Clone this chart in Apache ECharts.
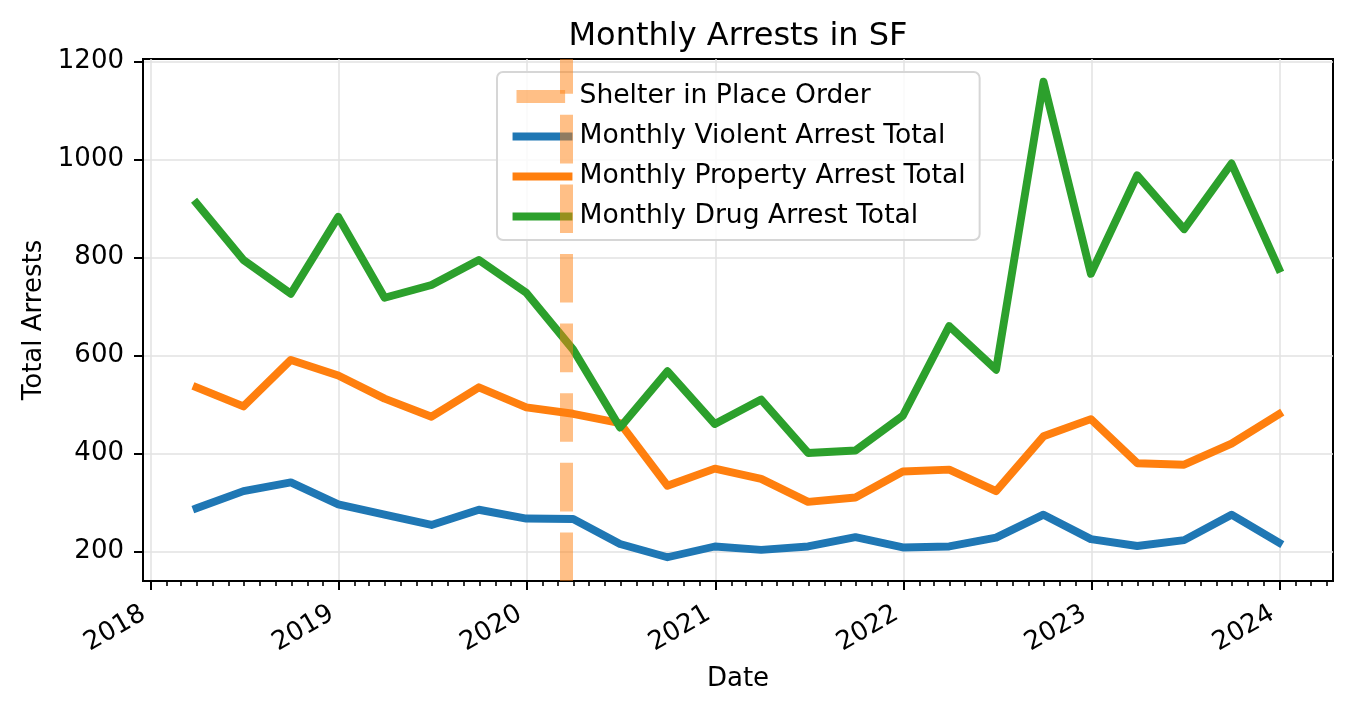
<!DOCTYPE html>
<html>
<head>
<meta charset="utf-8">
<title>Monthly Arrests in SF</title>
<script src="https://cdn.jsdelivr.net/npm/echarts@6/dist/echarts.min.js"></script>
<style>
  html, body { margin: 0; padding: 0; background: #fff; }
  #chart { width: 1352px; height: 712px; }
</style>
</head>
<body>
<div id="chart"></div>
<script>
// quarter-end dates, one value per quarter
const dates = [
    '2018-03-31', '2018-06-30', '2018-09-30', '2018-12-31',
    '2019-03-31', '2019-06-30', '2019-09-30', '2019-12-31',
    '2020-03-31', '2020-06-30', '2020-09-30', '2020-12-31',
    '2021-03-31', '2021-06-30', '2021-09-30', '2021-12-31',
    '2022-03-31', '2022-06-30', '2022-09-30', '2022-12-31',
    '2023-03-31', '2023-06-30', '2023-09-30', '2023-12-31',
]
const violent = [288, 323, 341, 296, 275, 254, 285, 267, 266, 215, 188, 210, 203, 210, 229, 208, 210, 228, 275, 225, 211, 223, 275, 218]
const property = [535, 496, 591, 559, 512, 475, 535, 494, 481, 462, 334, 369, 348, 301, 310, 363, 367, 323, 435, 470, 380, 377, 420, 480]
const drug = [911, 795, 726, 883, 718, 744, 795, 728, 612, 453, 568, 460, 510, 401, 406, 477, 660, 571, 1159, 767, 968, 858, 992, 777]
const shelterDate = '2020-03-17'

const yearLabels = ['2018', '2019', '2020', '2021', '2022', '2023', '2024']
const yTicks = [200, 400, 600, 800, 1000, 1200]
const xMin = '2017-12-17'
const xMax = '2024-04-14'
const yMin = 139.5
const yMax = 1205.5

const font = 'DejaVu Sans'

// local-time timestamp for 'YYYY-MM-DD'
function ts(s) {
    const p = s.split('-').map(Number)
    return new Date(p[0], p[1] - 1, p[2]).getTime()
}

const yearTicks = yearLabels.map(y => ts(y + '-01-01'))
const monthTicks = []
for (let y = 2017; y <= 2024; y++) {
    for (let m = 2; m <= 12; m++) {
        const t = ts(y + '-' + m + '-01')
        if (t > ts(xMin) && t < ts(xMax)) monthTicks.push(t)
    }
}

function lineSeries(name, values, color) {
    return {
        name: name,
        type: 'line',
        data: dates.map((d, i) => [ts(d), values[i]]),
        symbol: 'none',
        lineStyle: { color: color, width: 7.9, cap: 'square', join: 'round' },
        itemStyle: { color: color },
        emphasis: { disabled: true },
        z: 3,
    }
}

const shelterColor = 'rgba(255,127,14,0.5)'
const textBase = { fontFamily: font, fontSize: 26, color: '#000' }

const chart = echarts.init(document.getElementById('chart'))
const option = {
    animation: false,
    backgroundColor: '#fff',
    title: {
        text: 'Monthly Arrests in SF',
        left: 733,
        textAlign: 'center',
        top: 16,
        textStyle: { fontFamily: font, fontSize: 32, fontWeight: 'normal', color: '#000' },
    },
    grid: {
        left: 143, right: 19, top: 59, bottom: 131,
        show: true, borderColor: '#000', borderWidth: 2,
    },
    legend: {
        orient: 'vertical',
        left: 497,
        top: 72,
        padding: [11, 14, 10, 13],
        itemGap: 13,
        itemWidth: 52,
        itemHeight: 14,
        backgroundColor: 'rgba(255,255,255,0.8)',
        borderColor: '#d6d6d6',
        borderWidth: 2,
        borderRadius: 6,
        selectedMode: false,
        itemStyle: { opacity: 0 },
        textStyle: { fontFamily: font, fontSize: 26.6, color: '#000', padding: [0, 0, 0, 6] },
        data: [
            { name: 'Shelter in Place Order', lineStyle: { width: 13, type: [48.6, 21], cap: 'butt' } },
            { name: 'Monthly Violent Arrest Total', lineStyle: { width: 7.9, type: 'solid', cap: 'square' } },
            { name: 'Monthly Property Arrest Total', lineStyle: { width: 7.9, type: 'solid', cap: 'square' } },
            { name: 'Monthly Drug Arrest Total', lineStyle: { width: 7.9, type: 'solid', cap: 'square' } },
        ],
    },
    xAxis: [
        {
            type: 'value',
            min: ts(xMin),
            max: ts(xMax),
            position: 'bottom',
            name: 'Date',
            nameLocation: 'middle',
            nameGap: 85,
            nameTextStyle: textBase,
            axisLine: { show: true, onZero: false, lineStyle: { color: '#000', width: 2 } },
            axisTick: { show: true, customValues: yearTicks, length: 9, lineStyle: { color: '#000', width: 2 } },
            axisLabel: Object.assign({
                customValues: yearTicks,
                formatter: v => String(new Date(v).getFullYear()),
                rotate: 30,
                margin: 27,
                padding: [0, 8, 0, 0],
            }, textBase),
            splitLine: { show: true, lineStyle: { color: '#e2e2e2', width: 1.5 } },
        },
        {
            type: 'value',
            min: ts(xMin),
            max: ts(xMax),
            position: 'bottom',
            axisLine: { show: false, onZero: false },
            axisTick: { show: true, customValues: monthTicks, length: 5, lineStyle: { color: '#000', width: 1.6 } },
            axisLabel: { show: false },
            splitLine: { show: false },
        },
    ],
    yAxis: {
        type: 'value',
        min: yMin,
        max: yMax,
        name: 'Total Arrests',
        nameLocation: 'middle',
        nameGap: 92,
        nameTextStyle: textBase,
        axisLine: { show: true, lineStyle: { color: '#000', width: 2 } },
        axisTick: { show: true, customValues: yTicks, length: 9, lineStyle: { color: '#000', width: 2 } },
        axisLabel: Object.assign({ customValues: yTicks, margin: 19, formatter: v => String(v) }, textBase),
        splitLine: { show: true, lineStyle: { color: '#e2e2e2', width: 1.5 } },
    },
    series: [
        {
            name: 'Shelter in Place Order',
            type: 'line',
            data: [],
            symbol: 'none',
            lineStyle: { color: shelterColor, width: 13, type: [48.6, 21], cap: 'butt' },
            itemStyle: { color: shelterColor },
            z: 2,
            markLine: {
                silent: true,
                symbol: ['none', 'none'],
                label: { show: false },
                emphasis: { disabled: true },
                lineStyle: { color: shelterColor, width: 13, type: [48.6, 21], cap: 'butt' },
                data: [{ xAxis: ts(shelterDate) }],
            },
        },
        lineSeries('Monthly Violent Arrest Total', violent, '#1f77b4'),
        lineSeries('Monthly Property Arrest Total', property, '#ff7f0e'),
        lineSeries('Monthly Drug Arrest Total', drug, '#2ca02c'),
    ],
}
chart.setOption(option)
window.addEventListener('resize', () => chart.resize())
</script>
</body>
</html>
